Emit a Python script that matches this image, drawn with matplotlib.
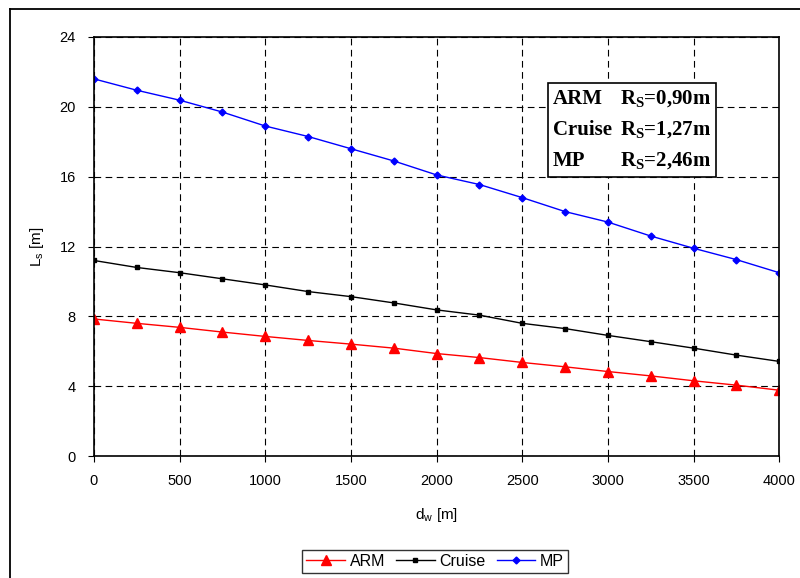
import matplotlib.pyplot as plt
from matplotlib.lines import Line2D

plt.rcParams["font.family"] = ["Liberation Sans", "DejaVu Sans"]
plt.rcParams["mathtext.fontset"] = "custom"
plt.rcParams["mathtext.rm"] = "Liberation Sans"
plt.rcParams["mathtext.bf"] = "Liberation Serif:bold"

dw = [0, 250, 500, 750, 1000, 1250, 1500, 1750, 2000, 2250, 2500, 2750, 3000, 3250, 3500, 3750, 4000]
arm = [7.85, 7.6, 7.37, 7.1, 6.85, 6.62, 6.41, 6.18, 5.87, 5.64, 5.36, 5.11, 4.84, 4.59, 4.31, 4.06, 3.77]
cruise = [11.2, 10.8, 10.5, 10.15, 9.8, 9.42, 9.13, 8.77, 8.37, 8.07, 7.6, 7.3, 6.91, 6.55, 6.18, 5.78, 5.42]
mp = [21.6, 20.95, 20.38, 19.7, 18.9, 18.3, 17.6, 16.9, 16.1, 15.55, 14.8, 14.0, 13.4, 12.6, 11.9, 11.25, 10.5]

box_names = ["ARM", "Cruise", "MP"]
box_radii = ["0,90", "1,27", "2,46"]

fig = plt.figure(figsize=(8, 5.78), dpi=100)
ax = fig.add_axes([0.1175, 0.211, 0.8565, 0.725])

ax.plot(dw, arm, color="red", marker="^", markersize=7, lw=1, label="ARM")
ax.plot(dw, cruise, color="black", marker="s", markersize=3.5, lw=1, label="Cruise")
ax.plot(dw, mp, color="blue", marker="D", markersize=3.5, lw=1, label="MP")

ax.set_xlim(0, 4000)
ax.set_ylim(0, 24)
ax.set_xticks(range(0, 4001, 500))
ax.set_yticks(range(0, 25, 4))
ax.grid(True, color="black", linestyle=(0, (6, 4)), lw=0.8)
ax.tick_params(direction="out", length=4, labelsize=10.5, pad=9)
for s in ax.spines.values():
    s.set_linewidth(1.2)
ax.set_xlabel(r"d$_\mathrm{w}$ [m]", fontsize=11, labelpad=13)
ax.set_ylabel(r"L$_\mathrm{s}$ [m]", fontsize=11, labelpad=10)

# annotation box
W, H = 800, 578
bx0, bx1 = 548 / W, 716 / W
by0, by1 = 1 - 177 / H, 1 - 83 / H
fig.patches.append(plt.Rectangle((bx0, by0), bx1 - bx0, by1 - by0, transform=fig.transFigure,
                                 fill=True, facecolor="white", edgecolor="black", lw=1.2, zorder=5))
rows_y = [99, 130, 161]
for n, r, yp in zip(box_names, box_radii, rows_y):
    yy = 1 - yp / H
    fig.text(553 / W, yy, n, family="Liberation Serif", weight="bold", fontsize=15,
             va="center", zorder=6)
    fig.text(711 / W, yy, r"$\mathbf{R_S}$" + "=" + r + "m", family="Liberation Serif",
             weight="bold", fontsize=15, va="center", ha="right", zorder=6)

# outer border (top and left)
fig.add_artist(Line2D([10 / W, 10 / W], [0, 1 - 9 / H], color="black", lw=1.3))
fig.add_artist(Line2D([10 / W, 1], [1 - 9 / H, 1 - 9 / H], color="black", lw=1.3))

leg = fig.legend(loc="center", bbox_to_anchor=(0.544, 0.029), ncol=3, fontsize=11.5,
                 frameon=True, fancybox=False, edgecolor="black", handlelength=2.4,
                 columnspacing=0.7, handletextpad=0.3, borderpad=0.25)
leg.get_frame().set_linewidth(1)

fig.savefig("out.png", dpi=100)
